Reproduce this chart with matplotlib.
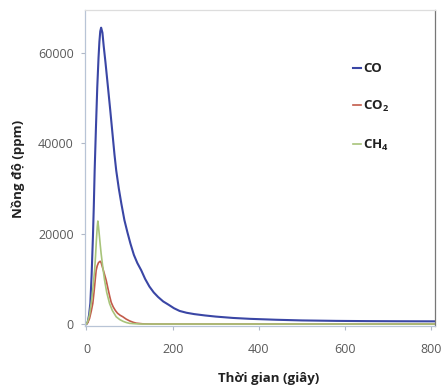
import matplotlib
matplotlib.use("Agg")
import matplotlib.pyplot as plt

plt.rcParams["font.family"] = ["Open Sans", "DejaVu Sans"]
plt.rcParams["mathtext.default"] = "regular"

# thời gian (giây) / nồng độ (ppm)
t_co = [0, 3, 6, 9, 12, 15, 17, 19, 22, 25, 28, 30, 32, 34, 37, 40, 44, 50,
        55, 60, 65, 69, 75, 81, 88, 95, 102, 110, 118, 127, 136, 146, 156,
        166, 178, 190, 203, 216, 232, 250, 275, 300, 340, 380, 440, 500, 580,
        650, 720, 800, 810]
co = [0, 500, 2000, 4600, 11000, 19300, 26000, 34000, 43500, 52300, 59000,
      62500, 64800, 65600, 64500, 61500, 58000, 52300, 47500, 42500, 37500,
      34000, 30000, 26600, 23000, 20300, 17800, 15300, 13500, 11900, 10000,
      8300, 7000, 6000, 5000, 4300, 3500, 2900, 2500, 2200, 1900, 1650, 1350,
      1150, 950, 800, 700, 650, 620, 600, 600]

t_co2 = [0, 3, 7, 11, 14.7, 18, 20, 22.5, 25, 28, 31.8, 34, 37, 41, 45.7, 50,
         54, 57.4, 62, 67, 72, 78, 84.5, 92, 100, 108, 115, 130, 150, 810]
co2 = [0, 300, 1200, 2800, 4560, 7500, 9500, 11900, 12900, 13600, 13900,
       13600, 12600, 11300, 9700, 7800, 6100, 4800, 3800, 3000, 2400, 1950,
       1600, 1100, 700, 400, 200, 50, 0, 0]

t_ch4 = [0, 3, 7, 10, 13, 16, 19, 21, 23, 25, 26.4, 28, 30, 32, 34, 38, 42,
         47, 53.5, 60, 69, 77, 85, 92, 100, 115, 130, 810]
ch4 = [0, 600, 2000, 4000, 6000, 9000, 12000, 15000, 18500, 21500, 22800,
       21500, 19500, 17500, 15600, 12500, 9700, 7000, 4560, 3000, 1600, 1000,
       600, 350, 150, 50, 0, 0]

labels = ["CO", "CO$_2$", "CH$_4$"]
colors = ["#3a46a5", "#c25b4a", "#a8c47a"]

fig = plt.figure(figsize=(4.46, 3.87), dpi=100)
ax = fig.add_axes([0.190, 0.158, 0.785, 0.816])

ax.plot(t_co, co, color=colors[0], lw=1.5, label=labels[0])
ax.plot(t_co2, co2, color=colors[1], lw=1.2, label=labels[1])
ax.plot(t_ch4, ch4, color=colors[2], lw=1.2, label=labels[2])

ax.set_xlim(-4, 808)
ax.set_ylim(-400, 69500)
ax.set_xticks([0, 200, 400, 600, 800])
ax.set_yticks([0, 20000, 40000, 60000])
ax.tick_params(axis="both", labelsize=9, labelcolor="#5a5a5a",
               color="#b0b8c8", length=3, width=0.8)
ax.tick_params(axis="x", pad=9)
ax.tick_params(axis="y", pad=5)

ax.spines["left"].set_color("#b8c4d6")
ax.spines["bottom"].set_color("#b8c4d6")
ax.spines["top"].set_color("#dddddd")
ax.spines["right"].set_color("#777777")
for s in ax.spines.values():
    s.set_linewidth(0.9)

leg = ax.legend(loc="upper left", bbox_to_anchor=(0.733, 0.872),
                frameon=False, handlelength=0.6, handletextpad=0.15,
                labelspacing=1.8, prop={"size": 9.5, "weight": "bold"})
for txt in leg.get_texts():
    txt.set_color("#222222")

fig.text(0.603, 0.023, "Thời gian (giây)", ha="center", va="center",
         fontsize=9.5, fontweight="bold", color="#222222")
fig.text(0.040, 0.563, "Nồng độ (ppm)", ha="center", va="center",
         rotation=90, fontsize=9.5, fontweight="bold", color="#222222")

fig.savefig("out.png", dpi=100, facecolor="white")
